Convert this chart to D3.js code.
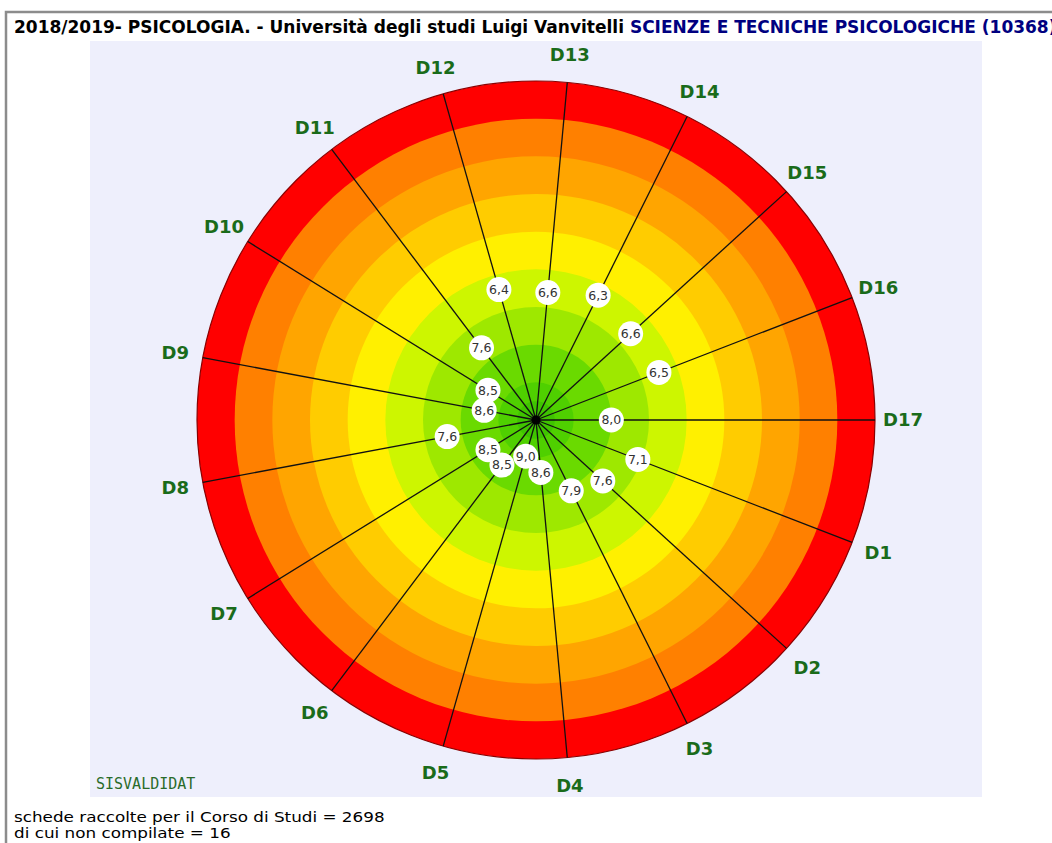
<!DOCTYPE html>
<html>
<head>
<meta charset="utf-8">
<script src="https://cdn.jsdelivr.net/npm/d3@7"></script>
<style>
  body { margin: 0; background: #fff; }
  svg { display: block; }
</style>
</head>
<body>
<svg id="chart"></svg>
<script>
// questions D1..D17, clockwise from D17 (east)
const questions = ['D1', 'D2', 'D3', 'D4', 'D5', 'D6', 'D7', 'D8', 'D9', 'D10', 'D11', 'D12', 'D13', 'D14', 'D15', 'D16', 'D17'];
const scores = [7.1, 7.6, 7.9, 8.6, 9.0, 8.5, 8.5, 7.6, 8.6, 8.5, 7.6, 6.4, 6.6, 6.3, 6.6, 6.5, 8.0];
// rating bands, from best (centre) to worst (rim)
const bandEdges = [10, 9.5, 9, 8, 7, 6, 5, 4, 3, 2, 1];
const bandColors = ['#3fc400', '#4fd000', '#6ada00', '#9ee800', '#cdf600', '#fff000', '#ffcc00', '#ffa500', '#ff8000', '#ff0000'];

const titleMain = '2018/2019- PSICOLOGIA. - Università degli studi Luigi Vanvitelli ';
const titleCourse = 'SCIENZE E TECNICHE PSICOLOGICHE (10368)';
const footerLines = ['schede raccolte per il Corso di Studi = 2698', 'di cui non compilate = 16'];

const width = 1052, height = 843;
const cx = 536, cy = 420, outer = 339, labelR = 367;

const svg = d3.select('#chart')
  .attr('width', width)
  .attr('height', height);

// frame
svg.append('path')
  .attr('d', `M6,${height} V12 H${width}`)
  .attr('fill', 'none')
  .attr('stroke', '#8c8c8c')
  .attr('stroke-width', 2.5);

// plot panel
svg.append('rect')
  .attr('x', 90).attr('y', 41)
  .attr('width', 892).attr('height', 756)
  .attr('fill', '#eeeffc');

// title (runs past the right edge, as in the page capture)
const title = svg.append('text')
  .attr('x', 14).attr('y', 33)
  .attr('font-family', 'DejaVu Sans')
  .attr('font-weight', 'bold')
  .attr('font-size', 17)
  .attr('xml:space', 'preserve');
title.append('tspan').attr('fill', '#000').text(titleMain);
title.append('tspan').attr('fill', '#000080').text(titleCourse);

const r = d3.scaleLinear().domain([10, 1]).range([0, outer]);
const angle = d3.scaleLinear().domain([0, questions.length]).range([0, 2 * Math.PI]);

const g = svg.append('g').attr('transform', `translate(${cx},${cy})`);

// bands, drawn from the rim inwards
g.append('g')
  .selectAll('circle')
  .data(d3.range(bandColors.length).reverse())
  .join('circle')
  .attr('r', i => r(bandEdges[i + 1]))
  .attr('fill', i => bandColors[i])
  .attr('stroke', (i) => i === bandColors.length - 1 ? '#8a0000' : 'none')
  .attr('stroke-width', 1.2);

// spokes
g.append('g')
  .selectAll('line')
  .data(questions)
  .join('line')
  .attr('x1', 0).attr('y1', 0)
  .attr('x2', (d, i) => r(1) * Math.cos(angle(i + 1)))
  .attr('y2', (d, i) => r(1) * Math.sin(angle(i + 1)))
  .attr('stroke', '#111')
  .attr('stroke-width', 1.3);

g.append('circle').attr('r', 4.5).attr('fill', '#000');

// question labels
g.append('g')
  .attr('font-family', 'DejaVu Sans')
  .attr('font-weight', 'bold')
  .attr('font-size', 18)
  .attr('fill', '#1a6b1a')
  .attr('text-anchor', 'middle')
  .selectAll('text')
  .data(questions)
  .join('text')
  .attr('x', (d, i) => labelR * Math.cos(angle(i + 1)))
  .attr('y', (d, i) => labelR * Math.sin(angle(i + 1)))
  .attr('dy', '0.36em')
  .text(d => d);

// score markers
const marks = g.append('g')
  .selectAll('g')
  .data(scores)
  .join('g')
  .attr('transform', (d, i) => `translate(${r(d) * Math.cos(angle(i + 1))},${r(d) * Math.sin(angle(i + 1))})`);

marks.append('circle')
  .attr('r', 12.5)
  .attr('fill', '#fff');

marks.append('text')
  .attr('text-anchor', 'middle')
  .attr('dy', '0.35em')
  .attr('font-family', 'DejaVu Sans')
  .attr('font-size', 12.5)
  .attr('fill', '#333')
  .text(d => d.toFixed(1).replace('.', ','));

// credit
svg.append('text')
  .attr('x', 96).attr('y', 789)
  .attr('font-family', 'DejaVu Sans Mono')
  .attr('font-size', 15)
  .attr('fill', '#2a6b2a')
  .text('SISVALDIDAT');

// footer: wide, Verdana-like text, so stretch a 14px face horizontally
svg.append('g')
  .attr('transform', 'translate(14,0) scale(1.2,1)')
  .attr('font-family', 'DejaVu Sans')
  .attr('font-size', 14)
  .attr('fill', '#000')
  .selectAll('text')
  .data(footerLines)
  .join('text')
  .attr('x', 0)
  .attr('y', (d, i) => 822 + i * 16)
  .text(d => d);
</script>
</body>
</html>
